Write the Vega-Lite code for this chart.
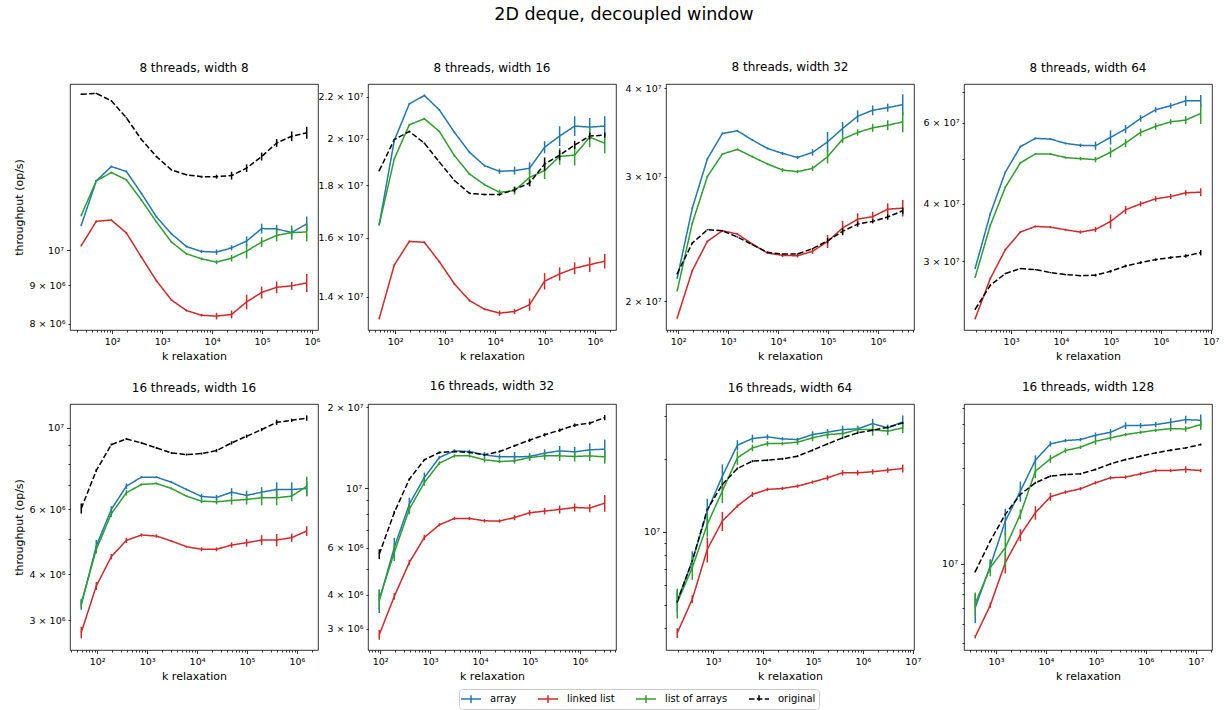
{
"$schema":"https://vega.github.io/schema/vega-lite/v6.json",
"padding":{"left":12,"top":6,"right":5,"bottom":0},
"title":{"text":"2D deque, decoupled window","fontSize":17.5,"fontWeight":"normal","offset":37,"anchor":"middle","dx":8},
"config":{
 "font":"DejaVu Sans",
 "view":{"stroke":"#000000","strokeWidth":0.8},
 "axis":{"grid":false,"domain":false,"tickColor":"#000","tickWidth":0.8,"labelColor":"#000","labelFontSize":9.5,"labelFont":"DejaVu Sans","labelPadding":3,"titleFont":"DejaVu Sans","titleFontSize":11,"titleFontWeight":"normal","titleColor":"#000","labelFlush":false,"labelOverlap":false},
 "axisX":{"titlePadding":4},
 "axisY":{"titlePadding":5},
 "title":{"font":"DejaVu Sans","fontSize":12,"fontWeight":"normal","color":"#000","offset":9},
 "style":{"group-title":{"fontWeight":"normal"}},
 "legend":{"symbolSize":144,"symbolOffset":2,"symbolStrokeWidth":1.5,"labelFontSize":10,"labelFont":"DejaVu Sans","labelColor":"#000","columnPadding":17,"labelOffset":12,"padding":3,"strokeColor":"#cccccc","fillColor":"#ffffff","cornerRadius":3,"symbolFillColor":"transparent"}
},
"columns":4,
"spacing":{"row":74,"column":50},
"bounds":"flush",
"data":{"values":[
{"p":1,"s":"array","k":24,"y":1.080e7,"e":3.2e4},{"p":1,"s":"array","k":48,"y":1.236e7,"e":3.7e4},{"p":1,"s":"array","k":96,"y":1.291e7,"e":3.9e4},{"p":1,"s":"array","k":192,"y":1.272e7,"e":3.8e4},{"p":1,"s":"array","k":384,"y":1.190e7,"e":3.6e4},{"p":1,"s":"array","k":768,"y":1.108e7,"e":3.3e4},{"p":1,"s":"array","k":1536,"y":1.052e7,"e":3.2e4},{"p":1,"s":"array","k":3072,"y":1.012e7,"e":3e4},{"p":1,"s":"array","k":6144,"y":9.97e6,"e":5e4},{"p":1,"s":"array","k":12288,"y":9.95e6,"e":8e4},{"p":1,"s":"array","k":24576,"y":1.008e7,"e":8e4},{"p":1,"s":"array","k":49152,"y":1.029e7,"e":1.5e5},{"p":1,"s":"array","k":98304,"y":1.069e7,"e":1.6e5},{"p":1,"s":"array","k":196608,"y":1.068e7,"e":1.3e5},{"p":1,"s":"array","k":393216,"y":1.056e7,"e":1.3e5},{"p":1,"s":"array","k":786432,"y":1.085e7,"e":2.4e5},
{"p":1,"s":"linked list","k":24,"y":1.015e7,"e":3e4},{"p":1,"s":"linked list","k":48,"y":1.093e7,"e":3.3e4},{"p":1,"s":"linked list","k":96,"y":1.097e7,"e":3.3e4},{"p":1,"s":"linked list","k":192,"y":1.055e7,"e":3.2e4},{"p":1,"s":"linked list","k":384,"y":9.80e6,"e":2.9e4},{"p":1,"s":"linked list","k":768,"y":9.12e6,"e":2.7e4},{"p":1,"s":"linked list","k":1536,"y":8.60e6,"e":2.6e4},{"p":1,"s":"linked list","k":3072,"y":8.33e6,"e":2.5e4},{"p":1,"s":"linked list","k":6144,"y":8.21e6,"e":3.3e4},{"p":1,"s":"linked list","k":12288,"y":8.19e6,"e":8.2e4},{"p":1,"s":"linked list","k":24576,"y":8.23e6,"e":9.9e4},{"p":1,"s":"linked list","k":49152,"y":8.55e6,"e":1.9e5},{"p":1,"s":"linked list","k":98304,"y":8.80e6,"e":1.6e5},{"p":1,"s":"linked list","k":196608,"y":8.94e6,"e":1.6e5},{"p":1,"s":"linked list","k":393216,"y":8.98e6,"e":1.1e5},{"p":1,"s":"linked list","k":786432,"y":9.06e6,"e":2.5e5},
{"p":1,"s":"list of arrays","k":24,"y":1.113e7,"e":3.3e4},{"p":1,"s":"list of arrays","k":48,"y":1.236e7,"e":3.7e4},{"p":1,"s":"list of arrays","k":96,"y":1.268e7,"e":3.8e4},{"p":1,"s":"list of arrays","k":192,"y":1.240e7,"e":3.7e4},{"p":1,"s":"list of arrays","k":384,"y":1.166e7,"e":3.5e4},{"p":1,"s":"list of arrays","k":768,"y":1.091e7,"e":3.3e4},{"p":1,"s":"list of arrays","k":1536,"y":1.026e7,"e":3.1e4},{"p":1,"s":"list of arrays","k":3072,"y":9.90e6,"e":3e4},{"p":1,"s":"list of arrays","k":6144,"y":9.75e6,"e":3.9e4},{"p":1,"s":"list of arrays","k":12288,"y":9.65e6,"e":5.8e4},{"p":1,"s":"list of arrays","k":24576,"y":9.77e6,"e":9.8e4},{"p":1,"s":"list of arrays","k":49152,"y":9.98e6,"e":2.2e5},{"p":1,"s":"list of arrays","k":98304,"y":1.026e7,"e":1.5e5},{"p":1,"s":"list of arrays","k":196608,"y":1.047e7,"e":1.9e5},{"p":1,"s":"list of arrays","k":393216,"y":1.056e7,"e":2.3e5},{"p":1,"s":"list of arrays","k":786432,"y":1.058e7,"e":3e5},
{"p":1,"s":"original","k":24,"y":1.609e7,"e":3.2e4},{"p":1,"s":"original","k":48,"y":1.613e7,"e":3.2e4},{"p":1,"s":"original","k":96,"y":1.577e7,"e":3.2e4},{"p":1,"s":"original","k":192,"y":1.498e7,"e":3e4},{"p":1,"s":"original","k":384,"y":1.402e7,"e":2.8e4},{"p":1,"s":"original","k":768,"y":1.331e7,"e":2.7e4},{"p":1,"s":"original","k":1536,"y":1.278e7,"e":2.6e4},{"p":1,"s":"original","k":3072,"y":1.259e7,"e":2.5e4},{"p":1,"s":"original","k":6144,"y":1.252e7,"e":3.8e4},{"p":1,"s":"original","k":12288,"y":1.252e7,"e":7.5e4},{"p":1,"s":"original","k":24576,"y":1.256e7,"e":1.5e5},{"p":1,"s":"original","k":49152,"y":1.285e7,"e":1.5e5},{"p":1,"s":"original","k":98304,"y":1.331e7,"e":1.6e5},{"p":1,"s":"original","k":196608,"y":1.387e7,"e":1.7e5},{"p":1,"s":"original","k":393216,"y":1.416e7,"e":2.1e5},{"p":1,"s":"original","k":786432,"y":1.431e7,"e":2.6e5},
{"p":2,"s":"array","k":48,"y":1.648e7,"e":3.7e4},{"p":2,"s":"array","k":96,"y":1.992e7,"e":4.5e4},{"p":2,"s":"array","k":192,"y":2.164e7,"e":4.9e4},{"p":2,"s":"array","k":384,"y":2.205e7,"e":5e4},{"p":2,"s":"array","k":768,"y":2.134e7,"e":4.8e4},{"p":2,"s":"array","k":1536,"y":2.029e7,"e":4.6e4},{"p":2,"s":"array","k":3072,"y":1.940e7,"e":4.4e4},{"p":2,"s":"array","k":6144,"y":1.882e7,"e":4.3e4},{"p":2,"s":"array","k":12288,"y":1.858e7,"e":1.1e5},{"p":2,"s":"array","k":24576,"y":1.861e7,"e":1.7e5},{"p":2,"s":"array","k":49152,"y":1.871e7,"e":2.5e5},{"p":2,"s":"array","k":98304,"y":1.962e7,"e":2.7e5},{"p":2,"s":"array","k":196608,"y":2.012e7,"e":4.5e5},{"p":2,"s":"array","k":393216,"y":2.058e7,"e":4.6e5},{"p":2,"s":"array","k":786432,"y":2.053e7,"e":4.3e5},{"p":2,"s":"array","k":1572864,"y":2.058e7,"e":4.6e5},
{"p":2,"s":"linked list","k":48,"y":1.333e7,"e":3e4},{"p":2,"s":"linked list","k":96,"y":1.504e7,"e":3.4e4},{"p":2,"s":"linked list","k":192,"y":1.586e7,"e":3.6e4},{"p":2,"s":"linked list","k":384,"y":1.583e7,"e":3.6e4},{"p":2,"s":"linked list","k":768,"y":1.515e7,"e":3.4e4},{"p":2,"s":"linked list","k":1536,"y":1.441e7,"e":3.3e4},{"p":2,"s":"linked list","k":3072,"y":1.388e7,"e":3.1e4},{"p":2,"s":"linked list","k":6144,"y":1.361e7,"e":3.1e4},{"p":2,"s":"linked list","k":12288,"y":1.349e7,"e":8e4},{"p":2,"s":"linked list","k":24576,"y":1.354e7,"e":8e4},{"p":2,"s":"linked list","k":49152,"y":1.375e7,"e":1.9e5},{"p":2,"s":"linked list","k":98304,"y":1.450e7,"e":2.7e5},{"p":2,"s":"linked list","k":196608,"y":1.474e7,"e":2.2e5},{"p":2,"s":"linked list","k":393216,"y":1.493e7,"e":2e5},{"p":2,"s":"linked list","k":786432,"y":1.505e7,"e":2.5e5},{"p":2,"s":"linked list","k":1572864,"y":1.517e7,"e":2.5e5},
{"p":2,"s":"list of arrays","k":48,"y":1.648e7,"e":3.7e4},{"p":2,"s":"list of arrays","k":96,"y":1.911e7,"e":4.3e4},{"p":2,"s":"list of arrays","k":192,"y":2.064e7,"e":4.7e4},{"p":2,"s":"list of arrays","k":384,"y":2.092e7,"e":4.7e4},{"p":2,"s":"list of arrays","k":768,"y":2.033e7,"e":4.6e4},{"p":2,"s":"list of arrays","k":1536,"y":1.925e7,"e":4.3e4},{"p":2,"s":"list of arrays","k":3072,"y":1.847e7,"e":4.2e4},{"p":2,"s":"list of arrays","k":6144,"y":1.803e7,"e":4.1e4},{"p":2,"s":"list of arrays","k":12288,"y":1.772e7,"e":1.1e5},{"p":2,"s":"list of arrays","k":24576,"y":1.779e7,"e":1.6e5},{"p":2,"s":"list of arrays","k":49152,"y":1.833e7,"e":3.5e5},{"p":2,"s":"list of arrays","k":98304,"y":1.861e7,"e":3.5e5},{"p":2,"s":"list of arrays","k":196608,"y":1.922e7,"e":3.6e5},{"p":2,"s":"list of arrays","k":393216,"y":1.927e7,"e":4.4e5},{"p":2,"s":"list of arrays","k":786432,"y":2.007e7,"e":4.5e5},{"p":2,"s":"list of arrays","k":1572864,"y":1.980e7,"e":4.5e5},
{"p":2,"s":"original","k":48,"y":1.861e7,"e":3e4},{"p":2,"s":"original","k":96,"y":1.996e7,"e":3e4},{"p":2,"s":"original","k":192,"y":2.033e7,"e":3e4},{"p":2,"s":"original","k":384,"y":1.980e7,"e":3e4},{"p":2,"s":"original","k":768,"y":1.897e7,"e":3e4},{"p":2,"s":"original","k":1536,"y":1.820e7,"e":3e4},{"p":2,"s":"original","k":3072,"y":1.768e7,"e":3e4},{"p":2,"s":"original","k":6144,"y":1.763e7,"e":3e4},{"p":2,"s":"original","k":12288,"y":1.763e7,"e":4e4},{"p":2,"s":"original","k":24576,"y":1.783e7,"e":1.1e5},{"p":2,"s":"original","k":49152,"y":1.810e7,"e":1.4e5},{"p":2,"s":"original","k":98304,"y":1.889e7,"e":2.8e5},{"p":2,"s":"original","k":196608,"y":1.927e7,"e":2.2e5},{"p":2,"s":"original","k":393216,"y":1.972e7,"e":1.8e5},{"p":2,"s":"original","k":786432,"y":2.012e7,"e":1.5e5},{"p":2,"s":"original","k":1572864,"y":2.016e7,"e":1.2e5},
{"p":3,"s":"array","k":96,"y":2.157e7,"e":7e4},{"p":3,"s":"array","k":192,"y":2.707e7,"e":8.8e4},{"p":3,"s":"array","k":384,"y":3.177e7,"e":1e5},{"p":3,"s":"array","k":768,"y":3.453e7,"e":1.1e5},{"p":3,"s":"array","k":1536,"y":3.483e7,"e":1.1e5},{"p":3,"s":"array","k":3072,"y":3.379e7,"e":1.1e5},{"p":3,"s":"array","k":6144,"y":3.289e7,"e":1.1e5},{"p":3,"s":"array","k":12288,"y":3.236e7,"e":1.7e5},{"p":3,"s":"array","k":24576,"y":3.194e7,"e":1.7e5},{"p":3,"s":"array","k":49152,"y":3.246e7,"e":3.5e5},{"p":3,"s":"array","k":98304,"y":3.360e7,"e":1.1e6},{"p":3,"s":"array","k":196608,"y":3.509e7,"e":7.6e5},{"p":3,"s":"array","k":393216,"y":3.652e7,"e":7.1e5},{"p":3,"s":"array","k":786432,"y":3.724e7,"e":6e5},{"p":3,"s":"array","k":1572864,"y":3.756e7,"e":4.9e5},{"p":3,"s":"array","k":3145728,"y":3.793e7,"e":1.3e6},
{"p":3,"s":"linked list","k":96,"y":1.894e7,"e":6e4},{"p":3,"s":"linked list","k":192,"y":2.209e7,"e":7e4},{"p":3,"s":"linked list","k":384,"y":2.429e7,"e":7.8e4},{"p":3,"s":"linked list","k":768,"y":2.515e7,"e":8e4},{"p":3,"s":"linked list","k":1536,"y":2.488e7,"e":8e4},{"p":3,"s":"linked list","k":3072,"y":2.408e7,"e":7.8e4},{"p":3,"s":"linked list","k":6144,"y":2.339e7,"e":7.5e4},{"p":3,"s":"linked list","k":12288,"y":2.321e7,"e":1.3e5},{"p":3,"s":"linked list","k":24576,"y":2.318e7,"e":1.3e5},{"p":3,"s":"linked list","k":49152,"y":2.352e7,"e":2e5},{"p":3,"s":"linked list","k":98304,"y":2.429e7,"e":5.2e5},{"p":3,"s":"linked list","k":196608,"y":2.537e7,"e":6e5},{"p":3,"s":"linked list","k":393216,"y":2.612e7,"e":5.1e5},{"p":3,"s":"linked list","k":786432,"y":2.633e7,"e":4.3e5},{"p":3,"s":"linked list","k":1572864,"y":2.698e7,"e":5.2e5},{"p":3,"s":"linked list","k":3145728,"y":2.707e7,"e":7.3e5},
{"p":3,"s":"list of arrays","k":96,"y":2.070e7,"e":6.7e4},{"p":3,"s":"list of arrays","k":192,"y":2.578e7,"e":8.4e4},{"p":3,"s":"list of arrays","k":384,"y":3.000e7,"e":9.7e4},{"p":3,"s":"list of arrays","k":768,"y":3.229e7,"e":1e5},{"p":3,"s":"list of arrays","k":1536,"y":3.278e7,"e":1.1e5},{"p":3,"s":"list of arrays","k":3072,"y":3.201e7,"e":1e5},{"p":3,"s":"list of arrays","k":6144,"y":3.126e7,"e":1e5},{"p":3,"s":"list of arrays","k":12288,"y":3.065e7,"e":2e5},{"p":3,"s":"list of arrays","k":24576,"y":3.049e7,"e":1.6e5},{"p":3,"s":"list of arrays","k":49152,"y":3.082e7,"e":2.7e5},{"p":3,"s":"list of arrays","k":98304,"y":3.201e7,"e":6.9e5},{"p":3,"s":"list of arrays","k":196608,"y":3.390e7,"e":4.4e5},{"p":3,"s":"list of arrays","k":393216,"y":3.464e7,"e":3.7e5},{"p":3,"s":"list of arrays","k":786432,"y":3.517e7,"e":4.6e5},{"p":3,"s":"list of arrays","k":1572864,"y":3.547e7,"e":5.7e5},{"p":3,"s":"list of arrays","k":3145728,"y":3.586e7,"e":1.2e6},
{"p":3,"s":"original","k":96,"y":2.187e7,"e":5e4},{"p":3,"s":"original","k":192,"y":2.416e7,"e":5e4},{"p":3,"s":"original","k":384,"y":2.523e7,"e":5e4},{"p":3,"s":"original","k":768,"y":2.515e7,"e":5e4},{"p":3,"s":"original","k":1536,"y":2.464e7,"e":5e4},{"p":3,"s":"original","k":3072,"y":2.403e7,"e":5e4},{"p":3,"s":"original","k":6144,"y":2.344e7,"e":5e4},{"p":3,"s":"original","k":12288,"y":2.331e7,"e":5e4},{"p":3,"s":"original","k":24576,"y":2.331e7,"e":5e4},{"p":3,"s":"original","k":49152,"y":2.372e7,"e":5e4},{"p":3,"s":"original","k":98304,"y":2.434e7,"e":2.1e5},{"p":3,"s":"original","k":196608,"y":2.510e7,"e":2.7e5},{"p":3,"s":"original","k":393216,"y":2.570e7,"e":2.2e5},{"p":3,"s":"original","k":786432,"y":2.593e7,"e":1.7e5},{"p":3,"s":"original","k":1572864,"y":2.630e7,"e":2.3e5},{"p":3,"s":"original","k":3145728,"y":2.684e7,"e":2.9e5},
{"p":4,"s":"array","k":192,"y":2.900e7,"e":1.5e5},{"p":4,"s":"array","k":384,"y":3.805e7,"e":1.9e5},{"p":4,"s":"array","k":768,"y":4.687e7,"e":2.3e5},{"p":4,"s":"array","k":1536,"y":5.328e7,"e":2.7e5},{"p":4,"s":"array","k":3072,"y":5.554e7,"e":2.8e5},{"p":4,"s":"array","k":6144,"y":5.536e7,"e":2.8e5},{"p":4,"s":"array","k":12288,"y":5.417e7,"e":2.7e5},{"p":4,"s":"array","k":24576,"y":5.364e7,"e":4.5e5},{"p":4,"s":"array","k":49152,"y":5.354e7,"e":1.1e6},{"p":4,"s":"array","k":98304,"y":5.582e7,"e":2e6},{"p":4,"s":"array","k":196608,"y":5.820e7,"e":1.2e6},{"p":4,"s":"array","k":393216,"y":6.139e7,"e":1e6},{"p":4,"s":"array","k":786432,"y":6.411e7,"e":8.6e5},{"p":4,"s":"array","k":1572864,"y":6.540e7,"e":8.7e5},{"p":4,"s":"array","k":3145728,"y":6.705e7,"e":1.7e6},{"p":4,"s":"array","k":6291456,"y":6.705e7,"e":2e6},
{"p":4,"s":"linked list","k":192,"y":2.252e7,"e":1.1e5},{"p":4,"s":"linked list","k":384,"y":2.750e7,"e":1.4e5},{"p":4,"s":"linked list","k":768,"y":3.178e7,"e":1.6e5},{"p":4,"s":"linked list","k":1536,"y":3.472e7,"e":1.7e5},{"p":4,"s":"linked list","k":3072,"y":3.572e7,"e":1.8e5},{"p":4,"s":"linked list","k":6144,"y":3.559e7,"e":1.8e5},{"p":4,"s":"linked list","k":12288,"y":3.513e7,"e":1.8e5},{"p":4,"s":"linked list","k":24576,"y":3.472e7,"e":2.9e5},{"p":4,"s":"linked list","k":49152,"y":3.518e7,"e":4.7e5},{"p":4,"s":"linked list","k":98304,"y":3.662e7,"e":1.3e6},{"p":4,"s":"linked list","k":196608,"y":3.882e7,"e":7.8e5},{"p":4,"s":"linked list","k":393216,"y":4.000e7,"e":5.3e5},{"p":4,"s":"linked list","k":786432,"y":4.102e7,"e":5.5e5},{"p":4,"s":"linked list","k":1572864,"y":4.150e7,"e":5.5e5},{"p":4,"s":"linked list","k":3145728,"y":4.227e7,"e":5.6e5},{"p":4,"s":"linked list","k":6291456,"y":4.241e7,"e":8.5e5},
{"p":4,"s":"list of arrays","k":192,"y":2.773e7,"e":1.4e5},{"p":4,"s":"list of arrays","k":384,"y":3.590e7,"e":1.8e5},{"p":4,"s":"list of arrays","k":768,"y":4.348e7,"e":2.2e5},{"p":4,"s":"list of arrays","k":1536,"y":4.911e7,"e":2.5e5},{"p":4,"s":"list of arrays","k":3072,"y":5.136e7,"e":2.6e5},{"p":4,"s":"list of arrays","k":6144,"y":5.136e7,"e":2.6e5},{"p":4,"s":"list of arrays","k":12288,"y":5.044e7,"e":2.5e5},{"p":4,"s":"list of arrays","k":24576,"y":5.018e7,"e":4.2e5},{"p":4,"s":"list of arrays","k":49152,"y":4.993e7,"e":6.7e5},{"p":4,"s":"list of arrays","k":98304,"y":5.180e7,"e":1.3e6},{"p":4,"s":"list of arrays","k":196608,"y":5.426e7,"e":1.1e6},{"p":4,"s":"list of arrays","k":393216,"y":5.724e7,"e":1.1e6},{"p":4,"s":"list of arrays","k":786432,"y":5.898e7,"e":9.8e5},{"p":4,"s":"list of arrays","k":1572864,"y":6.036e7,"e":8e5},{"p":4,"s":"list of arrays","k":3145728,"y":6.087e7,"e":1.2e6},{"p":4,"s":"list of arrays","k":6291456,"y":6.294e7,"e":3.2e6},
{"p":4,"s":"original","k":192,"y":2.359e7,"e":8e4},{"p":4,"s":"original","k":384,"y":2.659e7,"e":9e4},{"p":4,"s":"original","k":768,"y":2.819e7,"e":9.4e4},{"p":4,"s":"original","k":1536,"y":2.891e7,"e":9.7e4},{"p":4,"s":"original","k":3072,"y":2.876e7,"e":9.6e4},{"p":4,"s":"original","k":6144,"y":2.834e7,"e":9.5e4},{"p":4,"s":"original","k":12288,"y":2.805e7,"e":9.4e4},{"p":4,"s":"original","k":24576,"y":2.791e7,"e":9.3e4},{"p":4,"s":"original","k":49152,"y":2.797e7,"e":1.9e5},{"p":4,"s":"original","k":98304,"y":2.852e7,"e":1.9e5},{"p":4,"s":"original","k":196608,"y":2.929e7,"e":2e5},{"p":4,"s":"original","k":393216,"y":2.979e7,"e":2e5},{"p":4,"s":"original","k":786432,"y":3.024e7,"e":2e5},{"p":4,"s":"original","k":1572864,"y":3.055e7,"e":2e5},{"p":4,"s":"original","k":3145728,"y":3.080e7,"e":2.6e5},{"p":4,"s":"original","k":6291456,"y":3.131e7,"e":4.2e5},
{"p":5,"s":"array","k":48,"y":3.301e6,"e":1e5},{"p":5,"s":"array","k":96,"y":4.772e6,"e":1.8e5},{"p":5,"s":"array","k":192,"y":6.002e6,"e":1.2e5},{"p":5,"s":"array","k":384,"y":6.943e6,"e":1.2e5},{"p":5,"s":"array","k":768,"y":7.346e6,"e":4.6e4},{"p":5,"s":"array","k":1536,"y":7.346e6,"e":4.6e4},{"p":5,"s":"array","k":3072,"y":7.120e6,"e":4.4e4},{"p":5,"s":"array","k":6144,"y":6.801e6,"e":4.2e4},{"p":5,"s":"array","k":12288,"y":6.510e6,"e":1.1e5},{"p":5,"s":"array","k":24576,"y":6.469e6,"e":1.1e5},{"p":5,"s":"array","k":49152,"y":6.688e6,"e":1.7e5},{"p":5,"s":"array","k":98304,"y":6.551e6,"e":2e5},{"p":5,"s":"array","k":196608,"y":6.688e6,"e":2.1e5},{"p":5,"s":"array","k":393216,"y":6.801e6,"e":3.1e5},{"p":5,"s":"array","k":786432,"y":6.801e6,"e":3.1e5},{"p":5,"s":"array","k":1572864,"y":6.843e6,"e":3.1e5},
{"p":5,"s":"linked list","k":48,"y":2.776e6,"e":1e5},{"p":5,"s":"linked list","k":96,"y":3.716e6,"e":9.3e4},{"p":5,"s":"linked list","k":192,"y":4.465e6,"e":7.4e4},{"p":5,"s":"linked list","k":384,"y":4.944e6,"e":8.2e4},{"p":5,"s":"linked list","k":768,"y":5.112e6,"e":5.3e4},{"p":5,"s":"linked list","k":1536,"y":5.080e6,"e":5.3e4},{"p":5,"s":"linked list","k":3072,"y":4.923e6,"e":3.1e4},{"p":5,"s":"linked list","k":6144,"y":4.752e6,"e":3e4},{"p":5,"s":"linked list","k":12288,"y":4.674e6,"e":5.8e4},{"p":5,"s":"linked list","k":24576,"y":4.674e6,"e":5.8e4},{"p":5,"s":"linked list","k":49152,"y":4.801e6,"e":8e4},{"p":5,"s":"linked list","k":98304,"y":4.872e6,"e":1.2e5},{"p":5,"s":"linked list","k":196608,"y":4.955e6,"e":1.5e5},{"p":5,"s":"linked list","k":393216,"y":4.955e6,"e":1.9e5},{"p":5,"s":"linked list","k":786432,"y":5.029e6,"e":1.3e5},{"p":5,"s":"linked list","k":1572864,"y":5.243e6,"e":1.6e5},
{"p":5,"s":"list of arrays","k":48,"y":3.329e6,"e":1e5},{"p":5,"s":"list of arrays","k":96,"y":4.674e6,"e":1.2e5},{"p":5,"s":"list of arrays","k":192,"y":5.841e6,"e":1.2e5},{"p":5,"s":"list of arrays","k":384,"y":6.660e6,"e":1.1e5},{"p":5,"s":"list of arrays","k":768,"y":7.017e6,"e":4.4e4},{"p":5,"s":"list of arrays","k":1536,"y":7.061e6,"e":4.4e4},{"p":5,"s":"list of arrays","k":3072,"y":6.843e6,"e":4.3e4},{"p":5,"s":"list of arrays","k":6144,"y":6.523e6,"e":4.1e4},{"p":5,"s":"list of arrays","k":12288,"y":6.322e6,"e":7.9e4},{"p":5,"s":"list of arrays","k":24576,"y":6.296e6,"e":1e5},{"p":5,"s":"list of arrays","k":49152,"y":6.348e6,"e":1.6e5},{"p":5,"s":"list of arrays","k":98304,"y":6.388e6,"e":2e5},{"p":5,"s":"list of arrays","k":196608,"y":6.457e6,"e":3e5},{"p":5,"s":"list of arrays","k":393216,"y":6.457e6,"e":3e5},{"p":5,"s":"list of arrays","k":786432,"y":6.523e6,"e":2e5},{"p":5,"s":"list of arrays","k":1572864,"y":6.943e6,"e":4.3e5},
{"p":5,"s":"original","k":48,"y":6.039e6,"e":1.9e5},{"p":5,"s":"original","k":96,"y":7.661e6,"e":8e4},{"p":5,"s":"original","k":192,"y":9.011e6,"e":5.6e4},{"p":5,"s":"original","k":384,"y":9.335e6,"e":5.8e4},{"p":5,"s":"original","k":768,"y":9.105e6,"e":5.7e4},{"p":5,"s":"original","k":1536,"y":8.824e6,"e":5.5e4},{"p":5,"s":"original","k":3072,"y":8.552e6,"e":5.3e4},{"p":5,"s":"original","k":6144,"y":8.464e6,"e":5.3e4},{"p":5,"s":"original","k":12288,"y":8.517e6,"e":5.3e4},{"p":5,"s":"original","k":24576,"y":8.679e6,"e":9e4},{"p":5,"s":"original","k":49152,"y":9.105e6,"e":9.5e4},{"p":5,"s":"original","k":98304,"y":9.493e6,"e":9.9e4},{"p":5,"s":"original","k":196608,"y":9.897e6,"e":1e5},{"p":5,"s":"original","k":393216,"y":1.036e7,"e":1.7e5},{"p":5,"s":"original","k":786432,"y":1.049e7,"e":1.1e5},{"p":5,"s":"original","k":1572864,"y":1.064e7,"e":1.8e5},
{"p":6,"s":"array","k":96,"y":3.807e6,"e":3.8e5},{"p":6,"s":"array","k":192,"y":6.014e6,"e":5.2e5},{"p":6,"s":"array","k":384,"y":8.716e6,"e":5e5},{"p":6,"s":"array","k":768,"y":1.096e7,"e":4.7e5},{"p":6,"s":"array","k":1536,"y":1.301e7,"e":1.9e5},{"p":6,"s":"array","k":3072,"y":1.377e7,"e":2e5},{"p":6,"s":"array","k":6144,"y":1.369e7,"e":2e5},{"p":6,"s":"array","k":12288,"y":1.331e7,"e":3e5},{"p":6,"s":"array","k":24576,"y":1.308e7,"e":3e5},{"p":6,"s":"array","k":49152,"y":1.308e7,"e":5.6e5},{"p":6,"s":"array","k":98304,"y":1.312e7,"e":3.8e5},{"p":6,"s":"array","k":196608,"y":1.350e7,"e":4.6e5},{"p":6,"s":"array","k":393216,"y":1.377e7,"e":5.9e5},{"p":6,"s":"array","k":786432,"y":1.365e7,"e":5.9e5},{"p":6,"s":"array","k":1572864,"y":1.389e7,"e":7.9e5},{"p":6,"s":"array","k":3145728,"y":1.397e7,"e":1.2e6},
{"p":6,"s":"linked list","k":96,"y":2.845e6,"e":1.2e5},{"p":6,"s":"linked list","k":192,"y":3.952e6,"e":1.1e5},{"p":6,"s":"linked list","k":384,"y":5.288e6,"e":1.2e5},{"p":6,"s":"linked list","k":768,"y":6.552e6,"e":1.5e5},{"p":6,"s":"linked list","k":1536,"y":7.302e6,"e":1e5},{"p":6,"s":"linked list","k":3072,"y":7.710e6,"e":1.1e5},{"p":6,"s":"linked list","k":6144,"y":7.710e6,"e":1.1e5},{"p":6,"s":"linked list","k":12288,"y":7.557e6,"e":1.1e5},{"p":6,"s":"linked list","k":24576,"y":7.540e6,"e":1.1e5},{"p":6,"s":"linked list","k":49152,"y":7.776e6,"e":1.8e5},{"p":6,"s":"linked list","k":98304,"y":8.095e6,"e":1.9e5},{"p":6,"s":"linked list","k":196608,"y":8.212e6,"e":2.3e5},{"p":6,"s":"linked list","k":393216,"y":8.329e6,"e":2.9e5},{"p":6,"s":"linked list","k":786432,"y":8.472e6,"e":2.9e5},{"p":6,"s":"linked list","k":1572864,"y":8.425e6,"e":2.9e5},{"p":6,"s":"linked list","k":3145728,"y":8.794e6,"e":6.3e5},
{"p":6,"s":"list of arrays","k":96,"y":3.862e6,"e":3.3e5},{"p":6,"s":"list of arrays","k":192,"y":5.760e6,"e":4.1e5},{"p":6,"s":"list of arrays","k":384,"y":8.352e6,"e":3.6e5},{"p":6,"s":"list of arrays","k":768,"y":1.050e7,"e":3e5},{"p":6,"s":"list of arrays","k":1536,"y":1.239e7,"e":1.8e5},{"p":6,"s":"list of arrays","k":3072,"y":1.319e7,"e":1.9e5},{"p":6,"s":"list of arrays","k":6144,"y":1.319e7,"e":1.9e5},{"p":6,"s":"list of arrays","k":12288,"y":1.275e7,"e":2.9e5},{"p":6,"s":"list of arrays","k":24576,"y":1.257e7,"e":1.8e5},{"p":6,"s":"list of arrays","k":49152,"y":1.263e7,"e":2.9e5},{"p":6,"s":"list of arrays","k":98304,"y":1.301e7,"e":3.7e5},{"p":6,"s":"list of arrays","k":196608,"y":1.319e7,"e":4.5e5},{"p":6,"s":"list of arrays","k":393216,"y":1.319e7,"e":5.7e5},{"p":6,"s":"list of arrays","k":786432,"y":1.312e7,"e":5.6e5},{"p":6,"s":"list of arrays","k":1572864,"y":1.319e7,"e":5.7e5},{"p":6,"s":"list of arrays","k":3145728,"y":1.308e7,"e":7.5e5},
{"p":6,"s":"original","k":96,"y":5.679e6,"e":2.4e5},{"p":6,"s":"original","k":192,"y":8.118e6,"e":1.2e5},{"p":6,"s":"original","k":384,"y":1.080e7,"e":9.3e4},{"p":6,"s":"original","k":768,"y":1.275e7,"e":1.1e5},{"p":6,"s":"original","k":1536,"y":1.358e7,"e":1.2e5},{"p":6,"s":"original","k":3072,"y":1.369e7,"e":1.2e5},{"p":6,"s":"original","k":6144,"y":1.358e7,"e":1.2e5},{"p":6,"s":"original","k":12288,"y":1.331e7,"e":1.1e5},{"p":6,"s":"original","k":24576,"y":1.369e7,"e":1.2e5},{"p":6,"s":"original","k":49152,"y":1.438e7,"e":1.2e5},{"p":6,"s":"original","k":98304,"y":1.509e7,"e":2.2e5},{"p":6,"s":"original","k":196608,"y":1.580e7,"e":2.3e5},{"p":6,"s":"original","k":393216,"y":1.644e7,"e":2.4e5},{"p":6,"s":"original","k":786432,"y":1.716e7,"e":2.5e5},{"p":6,"s":"original","k":1572864,"y":1.746e7,"e":2.5e5},{"p":6,"s":"original","k":3145728,"y":1.832e7,"e":4.2e5},
{"p":7,"s":"array","k":192,"y":5.189e6,"e":4.9e5},{"p":7,"s":"array","k":384,"y":7.576e6,"e":7.2e5},{"p":7,"s":"array","k":768,"y":1.216e7,"e":1.5e6},{"p":7,"s":"array","k":1536,"y":1.693e7,"e":2e6},{"p":7,"s":"array","k":3072,"y":2.271e7,"e":1.1e6},{"p":7,"s":"array","k":6144,"y":2.419e7,"e":9.1e5},{"p":7,"s":"array","k":12288,"y":2.457e7,"e":6.2e5},{"p":7,"s":"array","k":24576,"y":2.411e7,"e":3.8e5},{"p":7,"s":"array","k":49152,"y":2.396e7,"e":3.8e5},{"p":7,"s":"array","k":98304,"y":2.512e7,"e":7.9e5},{"p":7,"s":"array","k":196608,"y":2.568e7,"e":8.1e5},{"p":7,"s":"array","k":393216,"y":2.634e7,"e":1e6},{"p":7,"s":"array","k":786432,"y":2.651e7,"e":8.4e5},{"p":7,"s":"array","k":1572864,"y":2.787e7,"e":1.3e6},{"p":7,"s":"array","k":3145728,"y":2.676e7,"e":8.4e5},{"p":7,"s":"array","k":6291456,"y":2.832e7,"e":1.8e6},
{"p":7,"s":"linked list","k":192,"y":3.821e6,"e":1.8e5},{"p":7,"s":"linked list","k":384,"y":5.271e6,"e":2e5},{"p":7,"s":"linked list","k":768,"y":8.460e6,"e":1e6},{"p":7,"s":"linked list","k":1536,"y":1.106e7,"e":1e6},{"p":7,"s":"linked list","k":3072,"y":1.275e7,"e":2e5},{"p":7,"s":"linked list","k":6144,"y":1.424e7,"e":3.6e5},{"p":7,"s":"linked list","k":12288,"y":1.493e7,"e":2.4e5},{"p":7,"s":"linked list","k":24576,"y":1.507e7,"e":2.4e5},{"p":7,"s":"linked list","k":49152,"y":1.540e7,"e":2.4e5},{"p":7,"s":"linked list","k":98304,"y":1.600e7,"e":2.5e5},{"p":7,"s":"linked list","k":196608,"y":1.667e7,"e":4.2e5},{"p":7,"s":"linked list","k":393216,"y":1.748e7,"e":4.4e5},{"p":7,"s":"linked list","k":786432,"y":1.748e7,"e":4.4e5},{"p":7,"s":"linked list","k":1572864,"y":1.765e7,"e":4.4e5},{"p":7,"s":"linked list","k":3145728,"y":1.792e7,"e":4.5e5},{"p":7,"s":"linked list","k":6291456,"y":1.821e7,"e":6.9e5},
{"p":7,"s":"list of arrays","k":192,"y":5.107e6,"e":7.2e5},{"p":7,"s":"list of arrays","k":384,"y":7.112e6,"e":7.8e5},{"p":7,"s":"list of arrays","k":768,"y":1.072e7,"e":1.2e6},{"p":7,"s":"list of arrays","k":1536,"y":1.470e7,"e":1.6e6},{"p":7,"s":"list of arrays","k":3072,"y":2.014e7,"e":1.3e6},{"p":7,"s":"list of arrays","k":6144,"y":2.214e7,"e":7e5},{"p":7,"s":"list of arrays","k":12288,"y":2.307e7,"e":5.8e5},{"p":7,"s":"list of arrays","k":24576,"y":2.307e7,"e":3.6e5},{"p":7,"s":"list of arrays","k":49152,"y":2.336e7,"e":5.9e5},{"p":7,"s":"list of arrays","k":98304,"y":2.434e7,"e":7.7e5},{"p":7,"s":"list of arrays","k":196608,"y":2.512e7,"e":9.5e5},{"p":7,"s":"list of arrays","k":393216,"y":2.536e7,"e":8e5},{"p":7,"s":"list of arrays","k":786432,"y":2.634e7,"e":8.3e5},{"p":7,"s":"list of arrays","k":1572864,"y":2.634e7,"e":1.5e6},{"p":7,"s":"list of arrays","k":3145728,"y":2.593e7,"e":9.8e5},{"p":7,"s":"list of arrays","k":6291456,"y":2.676e7,"e":1.3e6},
{"p":7,"s":"original","k":192,"y":5.15e6,"e":5e4},{"p":7,"s":"original","k":384,"y":7.576e6,"e":7.6e4},{"p":7,"s":"original","k":768,"y":1.235e7,"e":1.2e5},{"p":7,"s":"original","k":1536,"y":1.565e7,"e":1.6e5},{"p":7,"s":"original","k":3072,"y":1.821e7,"e":1.8e5},{"p":7,"s":"original","k":6144,"y":1.952e7,"e":2e5},{"p":7,"s":"original","k":12288,"y":1.970e7,"e":2e5},{"p":7,"s":"original","k":24576,"y":1.995e7,"e":2e5},{"p":7,"s":"original","k":49152,"y":2.046e7,"e":2e5},{"p":7,"s":"original","k":98304,"y":2.165e7,"e":2.2e5},{"p":7,"s":"original","k":196608,"y":2.299e7,"e":2.3e5},{"p":7,"s":"original","k":393216,"y":2.434e7,"e":2.4e5},{"p":7,"s":"original","k":786432,"y":2.552e7,"e":2.6e5},{"p":7,"s":"original","k":1572864,"y":2.617e7,"e":2.6e5},{"p":7,"s":"original","k":3145728,"y":2.692e7,"e":2.7e5},{"p":7,"s":"original","k":6291456,"y":2.805e7,"e":2.8e5},
{"p":8,"s":"array","k":384,"y":6.026e6,"e":1e6},{"p":8,"s":"array","k":768,"y":9.735e6,"e":7.5e5},{"p":8,"s":"array","k":1536,"y":1.634e7,"e":2.5e6},{"p":8,"s":"array","k":3072,"y":2.308e7,"e":2.7e6},{"p":8,"s":"array","k":6144,"y":3.298e7,"e":1.9e6},{"p":8,"s":"array","k":12288,"y":3.981e7,"e":1.2e6},{"p":8,"s":"array","k":24576,"y":4.137e7,"e":7.9e5},{"p":8,"s":"array","k":49152,"y":4.185e7,"e":8e5},{"p":8,"s":"array","k":98304,"y":4.398e7,"e":1.4e6},{"p":8,"s":"array","k":196608,"y":4.553e7,"e":1.7e6},{"p":8,"s":"array","k":393216,"y":4.918e7,"e":1.9e6},{"p":8,"s":"array","k":786432,"y":4.918e7,"e":1.5e6},{"p":8,"s":"array","k":1572864,"y":4.975e7,"e":1.5e6},{"p":8,"s":"array","k":3145728,"y":5.110e7,"e":2.4e6},{"p":8,"s":"array","k":6291456,"y":5.269e7,"e":2.4e6},{"p":8,"s":"array","k":12582912,"y":5.228e7,"e":3.6e6},
{"p":8,"s":"linked list","k":384,"y":4.299e6,"e":8.3e4},{"p":8,"s":"linked list","k":768,"y":6.189e6,"e":1.9e5},{"p":8,"s":"linked list","k":1536,"y":1.012e7,"e":1.2e6},{"p":8,"s":"linked list","k":3072,"y":1.391e7,"e":9.6e5},{"p":8,"s":"linked list","k":6144,"y":1.799e7,"e":1.4e6},{"p":8,"s":"linked list","k":12288,"y":2.163e7,"e":1e6},{"p":8,"s":"linked list","k":24576,"y":2.282e7,"e":4.4e5},{"p":8,"s":"linked list","k":49152,"y":2.371e7,"e":4.6e5},{"p":8,"s":"linked list","k":98304,"y":2.541e7,"e":4.9e5},{"p":8,"s":"linked list","k":196608,"y":2.692e7,"e":5.2e5},{"p":8,"s":"linked list","k":393216,"y":2.713e7,"e":5.2e5},{"p":8,"s":"linked list","k":786432,"y":2.818e7,"e":5.4e5},{"p":8,"s":"linked list","k":1572864,"y":2.928e7,"e":5.6e5},{"p":8,"s":"linked list","k":3145728,"y":2.928e7,"e":5.6e5},{"p":8,"s":"linked list","k":6291456,"y":2.962e7,"e":1.1e6},{"p":8,"s":"linked list","k":12582912,"y":2.928e7,"e":5.6e5},
{"p":8,"s":"list of arrays","k":384,"y":6.310e6,"e":8.5e5},{"p":8,"s":"list of arrays","k":768,"y":9.550e6,"e":9.2e5},{"p":8,"s":"list of arrays","k":1536,"y":1.202e7,"e":2.5e6},{"p":8,"s":"list of arrays","k":3072,"y":1.765e7,"e":1e6},{"p":8,"s":"list of arrays","k":6144,"y":2.906e7,"e":2.2e6},{"p":8,"s":"list of arrays","k":12288,"y":3.350e7,"e":1.5e6},{"p":8,"s":"list of arrays","k":24576,"y":3.687e7,"e":1.1e6},{"p":8,"s":"list of arrays","k":49152,"y":3.831e7,"e":7.4e5},{"p":8,"s":"list of arrays","k":98304,"y":4.105e7,"e":1.6e6},{"p":8,"s":"list of arrays","k":196608,"y":4.266e7,"e":1.3e6},{"p":8,"s":"list of arrays","k":393216,"y":4.432e7,"e":8.5e5},{"p":8,"s":"list of arrays","k":786432,"y":4.553e7,"e":8.7e5},{"p":8,"s":"list of arrays","k":1572864,"y":4.660e7,"e":9e5},{"p":8,"s":"list of arrays","k":3145728,"y":4.750e7,"e":1.5e6},{"p":8,"s":"list of arrays","k":6291456,"y":4.730e7,"e":1.5e6},{"p":8,"s":"list of arrays","k":12582912,"y":4.975e7,"e":2.9e6},
{"p":8,"s":"original","k":384,"y":9.120e6,"e":1e5},{"p":8,"s":"original","k":768,"y":1.298e7,"e":1.5e5},{"p":8,"s":"original","k":1536,"y":1.765e7,"e":2e5},{"p":8,"s":"original","k":3072,"y":2.221e7,"e":2.6e5},{"p":8,"s":"original","k":6144,"y":2.541e7,"e":2.9e5},{"p":8,"s":"original","k":12288,"y":2.744e7,"e":3.2e5},{"p":8,"s":"original","k":24576,"y":2.797e7,"e":3.2e5},{"p":8,"s":"original","k":49152,"y":2.818e7,"e":3.2e5},{"p":8,"s":"original","k":98304,"y":2.962e7,"e":3.4e5},{"p":8,"s":"original","k":196608,"y":3.162e7,"e":3.6e5},{"p":8,"s":"original","k":393216,"y":3.324e7,"e":3.8e5},{"p":8,"s":"original","k":786432,"y":3.454e7,"e":4e5},{"p":8,"s":"original","k":1572864,"y":3.589e7,"e":4.1e5},{"p":8,"s":"original","k":3145728,"y":3.701e7,"e":4.3e5},{"p":8,"s":"original","k":6291456,"y":3.802e7,"e":4.4e5},{"p":8,"s":"original","k":12582912,"y":3.951e7,"e":4.6e5}
]},
"concat":[
{"title":{"text":"8 threads, width 8","fontWeight":"normal","fontSize":12},"width":248,"height":246,"transform":[{"filter":"datum.p==1"}],
 "encoding":{
  "x":{"field":"k","type":"quantitative","scale":{"type":"log","domain":[14.27,1322700],"nice":false},"axis":{"title":"k relaxation","values":[10,20,30,40,50,60,70,80,90,100,200,300,400,500,600,700,800,900,1000,2000,3000,4000,5000,6000,7000,8000,9000,10000,20000,30000,40000,50000,60000,70000,80000,90000,100000,200000,300000,400000,500000,600000,700000,800000,900000,1000000,2000000,3000000,4000000,5000000,6000000,7000000,8000000,9000000,10000000,20000000,30000000],"tickCount":200,"labelExpr":"datum.value==10?'10¹':datum.value==100?'10²':datum.value==1000?'10³':datum.value==10000?'10⁴':datum.value==100000?'10⁵':datum.value==1000000?'10⁶':datum.value==10000000?'10⁷':''","tickSize":{"condition":{"test":"indexof([10,100,1000,10000,100000,1000000,10000000,100000000],datum.value)>=0","value":3.5},"value":2}}},
  "y":{"field":"y","type":"quantitative","scale":{"type":"log","domain":[7850000,16600000],"nice":false},"axis":{"title":"throughput (op/s)","values":[8000000,9000000,10000000],"tickCount":200,"labelExpr":"datum.value==8000000?'8 × 10⁶':datum.value==9000000?'9 × 10⁶':datum.value==10000000?'10⁷':''","tickSize":{"condition":{"test":"indexof([1000000,10000000,100000000],datum.value)>=0","value":3.5},"value":2}}},
  "color":{"field":"s","type":"nominal","scale":{"domain":["array","linked list","list of arrays","original"],"range":["#1f77b4","#d62728","#2ca02c","#000000"]},"legend":{"title":null,"orient":"none","legendX":389,"legendY":605,"direction":"horizontal","symbolType":"M-1.667,0H1.667M0,-0.65V0.65"}}
 },
 "layer":[
  {"mark":{"type":"line","strokeWidth":1.5},"encoding":{"strokeDash":{"field":"s","type":"nominal","scale":{"domain":["array","linked list","list of arrays","original"],"range":[[1,0],[1,0],[1,0],[5.5,2.4]]},"legend":{"title":null,"orient":"none","legendX":389,"legendY":605,"direction":"horizontal","symbolType":"M-1.667,0H1.667M0,-0.65V0.65"}}}},
  {"mark":{"type":"errorbar","thickness":1.5},"encoding":{"yError":{"field":"e"}}}
 ]},
{"title":{"text":"8 threads, width 16","fontWeight":"normal","fontSize":12},"width":248,"height":246,"transform":[{"filter":"datum.p==2"}],
 "encoding":{
  "x":{"field":"k","type":"quantitative","scale":{"type":"log","domain":[28.54,2645500],"nice":false},"axis":{"title":"k relaxation","values":[10,20,30,40,50,60,70,80,90,100,200,300,400,500,600,700,800,900,1000,2000,3000,4000,5000,6000,7000,8000,9000,10000,20000,30000,40000,50000,60000,70000,80000,90000,100000,200000,300000,400000,500000,600000,700000,800000,900000,1000000,2000000,3000000,4000000,5000000,6000000,7000000,8000000,9000000,10000000,20000000,30000000],"tickCount":200,"labelExpr":"datum.value==10?'10¹':datum.value==100?'10²':datum.value==1000?'10³':datum.value==10000?'10⁴':datum.value==100000?'10⁵':datum.value==1000000?'10⁶':datum.value==10000000?'10⁷':''","tickSize":{"condition":{"test":"indexof([10,100,1000,10000,100000,1000000,10000000,100000000],datum.value)>=0","value":3.5},"value":2}}},
  "y":{"field":"y","type":"quantitative","scale":{"type":"log","domain":[12986000,22630000],"nice":false},"axis":{"title":null,"values":[14000000,16000000,18000000,20000000,22000000],"tickCount":200,"labelExpr":"datum.value==14000000?'1.4 × 10⁷':datum.value==16000000?'1.6 × 10⁷':datum.value==18000000?'1.8 × 10⁷':datum.value==20000000?'2 × 10⁷':datum.value==22000000?'2.2 × 10⁷':''","tickSize":2}},
  "color":{"field":"s","type":"nominal","scale":{"domain":["array","linked list","list of arrays","original"],"range":["#1f77b4","#d62728","#2ca02c","#000000"]},"legend":{"title":null,"orient":"none","legendX":389,"legendY":605,"direction":"horizontal","symbolType":"M-1.667,0H1.667M0,-0.65V0.65"}}
 },
 "layer":[
  {"mark":{"type":"line","strokeWidth":1.5},"encoding":{"strokeDash":{"field":"s","type":"nominal","scale":{"domain":["array","linked list","list of arrays","original"],"range":[[1,0],[1,0],[1,0],[5.5,2.4]]},"legend":{"title":null,"orient":"none","legendX":389,"legendY":605,"direction":"horizontal","symbolType":"M-1.667,0H1.667M0,-0.65V0.65"}}}},
  {"mark":{"type":"errorbar","thickness":1.5},"encoding":{"yError":{"field":"e"}}}
 ]},
{"title":{"text":"8 threads, width 32","fontWeight":"normal","fontSize":12},"width":248,"height":246,"transform":[{"filter":"datum.p==3"}],
 "encoding":{
  "x":{"field":"k","type":"quantitative","scale":{"type":"log","domain":[57.08,5291000],"nice":false},"axis":{"title":"k relaxation","values":[10,20,30,40,50,60,70,80,90,100,200,300,400,500,600,700,800,900,1000,2000,3000,4000,5000,6000,7000,8000,9000,10000,20000,30000,40000,50000,60000,70000,80000,90000,100000,200000,300000,400000,500000,600000,700000,800000,900000,1000000,2000000,3000000,4000000,5000000,6000000,7000000,8000000,9000000,10000000,20000000,30000000],"tickCount":200,"labelExpr":"datum.value==10?'10¹':datum.value==100?'10²':datum.value==1000?'10³':datum.value==10000?'10⁴':datum.value==100000?'10⁵':datum.value==1000000?'10⁶':datum.value==10000000?'10⁷':''","tickSize":{"condition":{"test":"indexof([10,100,1000,10000,100000,1000000,10000000,100000000],datum.value)>=0","value":3.5},"value":2}}},
  "y":{"field":"y","type":"quantitative","scale":{"type":"log","domain":[18200000,40570000],"nice":false},"axis":{"title":null,"values":[20000000,30000000,40000000],"tickCount":200,"labelExpr":"datum.value==20000000?'2 × 10⁷':datum.value==30000000?'3 × 10⁷':datum.value==40000000?'4 × 10⁷':''","tickSize":2}},
  "color":{"field":"s","type":"nominal","scale":{"domain":["array","linked list","list of arrays","original"],"range":["#1f77b4","#d62728","#2ca02c","#000000"]},"legend":{"title":null,"orient":"none","legendX":389,"legendY":605,"direction":"horizontal","symbolType":"M-1.667,0H1.667M0,-0.65V0.65"}}
 },
 "layer":[
  {"mark":{"type":"line","strokeWidth":1.5},"encoding":{"strokeDash":{"field":"s","type":"nominal","scale":{"domain":["array","linked list","list of arrays","original"],"range":[[1,0],[1,0],[1,0],[5.5,2.4]]},"legend":{"title":null,"orient":"none","legendX":389,"legendY":605,"direction":"horizontal","symbolType":"M-1.667,0H1.667M0,-0.65V0.65"}}}},
  {"mark":{"type":"errorbar","thickness":1.5},"encoding":{"yError":{"field":"e"}}}
 ]},
{"title":{"text":"8 threads, width 64","fontWeight":"normal","fontSize":12},"width":248,"height":246,"transform":[{"filter":"datum.p==4"}],
 "encoding":{
  "x":{"field":"k","type":"quantitative","scale":{"type":"log","domain":[114.2,10582000],"nice":false},"axis":{"title":"k relaxation","values":[10,20,30,40,50,60,70,80,90,100,200,300,400,500,600,700,800,900,1000,2000,3000,4000,5000,6000,7000,8000,9000,10000,20000,30000,40000,50000,60000,70000,80000,90000,100000,200000,300000,400000,500000,600000,700000,800000,900000,1000000,2000000,3000000,4000000,5000000,6000000,7000000,8000000,9000000,10000000,20000000,30000000],"tickCount":200,"labelExpr":"datum.value==10?'10¹':datum.value==100?'10²':datum.value==1000?'10³':datum.value==10000?'10⁴':datum.value==100000?'10⁵':datum.value==1000000?'10⁶':datum.value==10000000?'10⁷':''","tickSize":{"condition":{"test":"indexof([10,100,1000,10000,100000,1000000,10000000,100000000],datum.value)>=0","value":3.5},"value":2}}},
  "y":{"field":"y","type":"quantitative","scale":{"type":"log","domain":[21250000,72950000],"nice":false},"axis":{"title":null,"values":[30000000,40000000,50000000,60000000,70000000],"tickCount":200,"labelExpr":"datum.value==30000000?'3 × 10⁷':datum.value==40000000?'4 × 10⁷':datum.value==60000000?'6 × 10⁷':''","tickSize":2}},
  "color":{"field":"s","type":"nominal","scale":{"domain":["array","linked list","list of arrays","original"],"range":["#1f77b4","#d62728","#2ca02c","#000000"]},"legend":{"title":null,"orient":"none","legendX":389,"legendY":605,"direction":"horizontal","symbolType":"M-1.667,0H1.667M0,-0.65V0.65"}}
 },
 "layer":[
  {"mark":{"type":"line","strokeWidth":1.5},"encoding":{"strokeDash":{"field":"s","type":"nominal","scale":{"domain":["array","linked list","list of arrays","original"],"range":[[1,0],[1,0],[1,0],[5.5,2.4]]},"legend":{"title":null,"orient":"none","legendX":389,"legendY":605,"direction":"horizontal","symbolType":"M-1.667,0H1.667M0,-0.65V0.65"}}}},
  {"mark":{"type":"errorbar","thickness":1.5},"encoding":{"yError":{"field":"e"}}}
 ]},
{"title":{"text":"16 threads, width 16","fontWeight":"normal","fontSize":12},"width":248,"height":246,"transform":[{"filter":"datum.p==5"}],
 "encoding":{
  "x":{"field":"k","type":"quantitative","scale":{"type":"log","domain":[28.54,2645500],"nice":false},"axis":{"title":"k relaxation","values":[10,20,30,40,50,60,70,80,90,100,200,300,400,500,600,700,800,900,1000,2000,3000,4000,5000,6000,7000,8000,9000,10000,20000,30000,40000,50000,60000,70000,80000,90000,100000,200000,300000,400000,500000,600000,700000,800000,900000,1000000,2000000,3000000,4000000,5000000,6000000,7000000,8000000,9000000,10000000,20000000,30000000],"tickCount":200,"labelExpr":"datum.value==10?'10¹':datum.value==100?'10²':datum.value==1000?'10³':datum.value==10000?'10⁴':datum.value==100000?'10⁵':datum.value==1000000?'10⁶':datum.value==10000000?'10⁷':''","tickSize":{"condition":{"test":"indexof([10,100,1000,10000,100000,1000000,10000000,100000000],datum.value)>=0","value":3.5},"value":2}}},
  "y":{"field":"y","type":"quantitative","scale":{"type":"log","domain":[2487000,11620000],"nice":false},"axis":{"title":"throughput (op/s)","values":[3000000,4000000,5000000,6000000,7000000,8000000,9000000,10000000],"tickCount":200,"labelExpr":"datum.value==3000000?'3 × 10⁶':datum.value==4000000?'4 × 10⁶':datum.value==6000000?'6 × 10⁶':datum.value==10000000?'10⁷':''","tickSize":{"condition":{"test":"indexof([1000000,10000000,100000000],datum.value)>=0","value":3.5},"value":2}}},
  "color":{"field":"s","type":"nominal","scale":{"domain":["array","linked list","list of arrays","original"],"range":["#1f77b4","#d62728","#2ca02c","#000000"]},"legend":{"title":null,"orient":"none","legendX":389,"legendY":605,"direction":"horizontal","symbolType":"M-1.667,0H1.667M0,-0.65V0.65"}}
 },
 "layer":[
  {"mark":{"type":"line","strokeWidth":1.5},"encoding":{"strokeDash":{"field":"s","type":"nominal","scale":{"domain":["array","linked list","list of arrays","original"],"range":[[1,0],[1,0],[1,0],[5.5,2.4]]},"legend":{"title":null,"orient":"none","legendX":389,"legendY":605,"direction":"horizontal","symbolType":"M-1.667,0H1.667M0,-0.65V0.65"}}}},
  {"mark":{"type":"errorbar","thickness":1.5},"encoding":{"yError":{"field":"e"}}}
 ]},
{"title":{"text":"16 threads, width 32","fontWeight":"normal","fontSize":12},"width":248,"height":246,"transform":[{"filter":"datum.p==6"}],
 "encoding":{
  "x":{"field":"k","type":"quantitative","scale":{"type":"log","domain":[57.08,5291000],"nice":false},"axis":{"title":"k relaxation","values":[10,20,30,40,50,60,70,80,90,100,200,300,400,500,600,700,800,900,1000,2000,3000,4000,5000,6000,7000,8000,9000,10000,20000,30000,40000,50000,60000,70000,80000,90000,100000,200000,300000,400000,500000,600000,700000,800000,900000,1000000,2000000,3000000,4000000,5000000,6000000,7000000,8000000,9000000,10000000,20000000,30000000],"tickCount":200,"labelExpr":"datum.value==10?'10¹':datum.value==100?'10²':datum.value==1000?'10³':datum.value==10000?'10⁴':datum.value==100000?'10⁵':datum.value==1000000?'10⁶':datum.value==10000000?'10⁷':''","tickSize":{"condition":{"test":"indexof([10,100,1000,10000,100000,1000000,10000000,100000000],datum.value)>=0","value":3.5},"value":2}}},
  "y":{"field":"y","type":"quantitative","scale":{"type":"log","domain":[2495000,20580000],"nice":false},"axis":{"title":null,"values":[3000000,4000000,5000000,6000000,7000000,8000000,9000000,10000000,20000000],"tickCount":200,"labelExpr":"datum.value==3000000?'3 × 10⁶':datum.value==4000000?'4 × 10⁶':datum.value==6000000?'6 × 10⁶':datum.value==10000000?'10⁷':datum.value==20000000?'2 × 10⁷':''","tickSize":{"condition":{"test":"indexof([1000000,10000000,100000000],datum.value)>=0","value":3.5},"value":2}}},
  "color":{"field":"s","type":"nominal","scale":{"domain":["array","linked list","list of arrays","original"],"range":["#1f77b4","#d62728","#2ca02c","#000000"]},"legend":{"title":null,"orient":"none","legendX":389,"legendY":605,"direction":"horizontal","symbolType":"M-1.667,0H1.667M0,-0.65V0.65"}}
 },
 "layer":[
  {"mark":{"type":"line","strokeWidth":1.5},"encoding":{"strokeDash":{"field":"s","type":"nominal","scale":{"domain":["array","linked list","list of arrays","original"],"range":[[1,0],[1,0],[1,0],[5.5,2.4]]},"legend":{"title":null,"orient":"none","legendX":389,"legendY":605,"direction":"horizontal","symbolType":"M-1.667,0H1.667M0,-0.65V0.65"}}}},
  {"mark":{"type":"errorbar","thickness":1.5},"encoding":{"yError":{"field":"e"}}}
 ]},
{"title":{"text":"16 threads, width 64","fontWeight":"normal","fontSize":12},"width":248,"height":246,"transform":[{"filter":"datum.p==7"}],
 "encoding":{
  "x":{"field":"k","type":"quantitative","scale":{"type":"log","domain":[114.2,10582000],"nice":false},"axis":{"title":"k relaxation","values":[10,20,30,40,50,60,70,80,90,100,200,300,400,500,600,700,800,900,1000,2000,3000,4000,5000,6000,7000,8000,9000,10000,20000,30000,40000,50000,60000,70000,80000,90000,100000,200000,300000,400000,500000,600000,700000,800000,900000,1000000,2000000,3000000,4000000,5000000,6000000,7000000,8000000,9000000,10000000,20000000,30000000],"tickCount":200,"labelExpr":"datum.value==10?'10¹':datum.value==100?'10²':datum.value==1000?'10³':datum.value==10000?'10⁴':datum.value==100000?'10⁵':datum.value==1000000?'10⁶':datum.value==10000000?'10⁷':''","tickSize":{"condition":{"test":"indexof([10,100,1000,10000,100000,1000000,10000000,100000000],datum.value)>=0","value":3.5},"value":2}}},
  "y":{"field":"y","type":"quantitative","scale":{"type":"log","domain":[3253000,33570000],"nice":false},"axis":{"title":null,"values":[4000000,5000000,6000000,7000000,8000000,9000000,10000000,20000000,30000000],"tickCount":200,"labelExpr":"datum.value==10000000?'10⁷':''","tickSize":{"condition":{"test":"indexof([1000000,10000000,100000000],datum.value)>=0","value":3.5},"value":2}}},
  "color":{"field":"s","type":"nominal","scale":{"domain":["array","linked list","list of arrays","original"],"range":["#1f77b4","#d62728","#2ca02c","#000000"]},"legend":{"title":null,"orient":"none","legendX":389,"legendY":605,"direction":"horizontal","symbolType":"M-1.667,0H1.667M0,-0.65V0.65"}}
 },
 "layer":[
  {"mark":{"type":"line","strokeWidth":1.5},"encoding":{"strokeDash":{"field":"s","type":"nominal","scale":{"domain":["array","linked list","list of arrays","original"],"range":[[1,0],[1,0],[1,0],[5.5,2.4]]},"legend":{"title":null,"orient":"none","legendX":389,"legendY":605,"direction":"horizontal","symbolType":"M-1.667,0H1.667M0,-0.65V0.65"}}}},
  {"mark":{"type":"errorbar","thickness":1.5},"encoding":{"yError":{"field":"e"}}}
 ]},
{"title":{"text":"16 threads, width 128","fontWeight":"normal","fontSize":12},"width":248,"height":246,"transform":[{"filter":"datum.p==8"}],
 "encoding":{
  "x":{"field":"k","type":"quantitative","scale":{"type":"log","domain":[228.3,21164000],"nice":false},"axis":{"title":"k relaxation","values":[10,20,30,40,50,60,70,80,90,100,200,300,400,500,600,700,800,900,1000,2000,3000,4000,5000,6000,7000,8000,9000,10000,20000,30000,40000,50000,60000,70000,80000,90000,100000,200000,300000,400000,500000,600000,700000,800000,900000,1000000,2000000,3000000,4000000,5000000,6000000,7000000,8000000,9000000,10000000,20000000,30000000],"tickCount":200,"labelExpr":"datum.value==10?'10¹':datum.value==100?'10²':datum.value==1000?'10³':datum.value==10000?'10⁴':datum.value==100000?'10⁵':datum.value==1000000?'10⁶':datum.value==10000000?'10⁷':''","tickSize":{"condition":{"test":"indexof([10,100,1000,10000,100000,1000000,10000000,100000000],datum.value)>=0","value":3.5},"value":2}}},
  "y":{"field":"y","type":"quantitative","scale":{"type":"log","domain":[3687000,63100000],"nice":false},"axis":{"title":null,"values":[4000000,5000000,6000000,7000000,8000000,9000000,10000000,20000000,30000000,40000000,50000000,60000000],"tickCount":200,"labelExpr":"datum.value==10000000?'10⁷':''","tickSize":{"condition":{"test":"indexof([1000000,10000000,100000000],datum.value)>=0","value":3.5},"value":2}}},
  "color":{"field":"s","type":"nominal","scale":{"domain":["array","linked list","list of arrays","original"],"range":["#1f77b4","#d62728","#2ca02c","#000000"]},"legend":{"title":null,"orient":"none","legendX":389,"legendY":605,"direction":"horizontal","symbolType":"M-1.667,0H1.667M0,-0.65V0.65"}}
 },
 "layer":[
  {"mark":{"type":"line","strokeWidth":1.5},"encoding":{"strokeDash":{"field":"s","type":"nominal","scale":{"domain":["array","linked list","list of arrays","original"],"range":[[1,0],[1,0],[1,0],[5.5,2.4]]},"legend":{"title":null,"orient":"none","legendX":389,"legendY":605,"direction":"horizontal","symbolType":"M-1.667,0H1.667M0,-0.65V0.65"}}}},
  {"mark":{"type":"errorbar","thickness":1.5},"encoding":{"yError":{"field":"e"}}}
 ]}
]
}
